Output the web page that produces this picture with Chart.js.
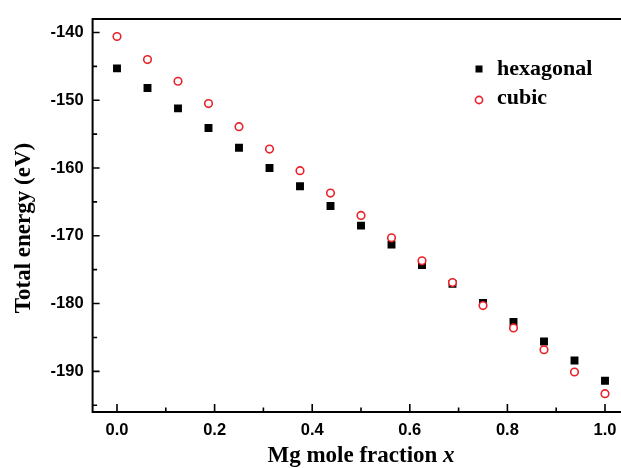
<!DOCTYPE html>
<html>
<head>
<meta charset="utf-8">
<script src="https://cdn.jsdelivr.net/npm/chart.js@4/dist/chart.umd.min.js"></script>
<style>
  html, body { margin: 0; padding: 0; background: #fff; overflow: hidden; }
  #wrap { width: 640px; height: 468px; }
</style>
</head>
<body>
<div id="wrap"><canvas id="c" width="640" height="468"></canvas></div>
<script>
// ---- data ----
const xValues = [0, 0.0625, 0.125, 0.1875, 0.25, 0.3125, 0.375, 0.4375, 0.5, 0.5625, 0.625, 0.6875, 0.75, 0.8125, 0.875, 0.9375, 1.0];
const hexagonal = [-145.3, -148.2, -151.2, -154.1, -157.0, -160.0, -162.7, -165.6, -168.5, -171.3, -174.3, -177.1, -179.9, -182.7, -185.6, -188.4, -191.4];
const cubic = [-140.6, -144.0, -147.2, -150.5, -153.9, -157.2, -160.4, -163.7, -167.0, -170.3, -173.7, -176.9, -180.3, -183.6, -186.8, -190.1, -193.3];
const seriesNames = ['hexagonal', 'cubic'];
const xTickValues = [0.0, 0.2, 0.4, 0.6, 0.8, 1.0];
const xMinorValues = [0.1, 0.3, 0.5, 0.7, 0.9];
const yTickValues = [-190, -180, -170, -160, -150, -140];
const yMinorValues = [-195, -185, -175, -165, -155, -145];
const xTitle = 'Mg mole fraction ';
const xTitleItalic = 'x';
const yTitle = 'Total energy (eV)';

const RED = '#e8232a';
const titleFont = 'bold 23px "Liberation Serif", "Times New Roman", serif';
const titleFontItalic = 'italic bold 23px "Liberation Serif", "Times New Roman", serif';

const toPts = (ys) => ys.map((y, i) => ({ x: xValues[i], y: y }));

const framePlugin = {
  id: 'frame',
  afterDraw(chart) {
    const ctx = chart.ctx;
    const a = chart.chartArea;
    const xs = chart.scales.x, ys = chart.scales.y;
    ctx.save();
    ctx.strokeStyle = '#000';
    ctx.lineWidth = 2;
    ctx.beginPath();
    ctx.moveTo(chart.width, a.top);
    ctx.lineTo(a.left, a.top);
    ctx.lineTo(a.left, a.bottom);
    ctx.lineTo(chart.width, a.bottom);
    ctx.stroke();
    ctx.lineWidth = 1.6;
    ctx.beginPath();
    // x ticks (inward, bottom)
    xTickValues.forEach(v => { const p = xs.getPixelForValue(v); ctx.moveTo(p, a.bottom); ctx.lineTo(p, a.bottom - 8); });
    xMinorValues.forEach(v => { const p = xs.getPixelForValue(v); ctx.moveTo(p, a.bottom); ctx.lineTo(p, a.bottom - 4.5); });
    // y ticks (inward, left)
    yTickValues.forEach(v => { const p = ys.getPixelForValue(v); ctx.moveTo(a.left, p); ctx.lineTo(a.left + 7, p); });
    yMinorValues.forEach(v => { const p = ys.getPixelForValue(v); ctx.moveTo(a.left, p); ctx.lineTo(a.left + 4.5, p); });
    ctx.stroke();

    // axis titles
    ctx.fillStyle = '#000';
    ctx.textBaseline = 'alphabetic';
    ctx.font = titleFont;
    const w1 = ctx.measureText(xTitle).width;
    ctx.font = titleFontItalic;
    const w2 = ctx.measureText(xTitleItalic).width;
    const cx = (a.left + a.right) / 2;
    const startX = cx - (w1 + w2) / 2;
    ctx.font = titleFont;
    ctx.textAlign = 'left';
    ctx.fillText(xTitle, startX, 462);
    ctx.font = titleFontItalic;
    ctx.fillText(xTitleItalic, startX + w1, 462);

    ctx.save();
    ctx.translate(30, 228);
    ctx.rotate(-Math.PI / 2);
    ctx.font = titleFont;
    ctx.textAlign = 'center';
    ctx.fillText(yTitle, 0, 0);
    ctx.restore();

    // legend
    const lx = 479;
    ctx.fillStyle = '#000';
    ctx.fillRect(lx - 3.5, 69 - 3.5, 7, 7);
    ctx.beginPath();
    ctx.arc(lx, 100, 3.6, 0, Math.PI * 2);
    ctx.fillStyle = '#fff';
    ctx.fill();
    ctx.strokeStyle = RED;
    ctx.lineWidth = 1.6;
    ctx.stroke();
    ctx.fillStyle = '#000';
    ctx.font = 'bold 22px "Liberation Serif", "Times New Roman", serif';
    ctx.textAlign = 'left';
    ctx.fillText(seriesNames[0], 497, 75);
    ctx.fillText(seriesNames[1], 497, 104);
    ctx.restore();
  }
};

new Chart(document.getElementById('c'), {
  type: 'scatter',
  data: {
    datasets: [
      {
        label: seriesNames[0],
        data: toPts(hexagonal),
        pointStyle: 'rect',
        pointRadius: 5.6,
        pointHoverRadius: 5.6,
        backgroundColor: '#000',
        borderColor: '#000',
        borderWidth: 0,
        order: 2
      },
      {
        label: seriesNames[1],
        data: toPts(cubic),
        pointStyle: 'circle',
        pointRadius: 3.8,
        pointHoverRadius: 3.8,
        backgroundColor: '#fff',
        borderColor: RED,
        borderWidth: 1.6,
        order: 1
      }
    ]
  },
  options: {
    responsive: false,
    devicePixelRatio: 1,
    animation: false,
    events: [],
    layout: { padding: { top: 13, right: 10.6, left: 0, bottom: 0 } },
    plugins: { legend: { display: false }, tooltip: { enabled: false }, title: { display: false } },
    scales: {
      x: {
        type: 'linear',
        min: -0.05,
        max: 1.05,
        grid: { display: false, drawTicks: false },
        border: { display: false },
        afterBuildTicks: (s) => { s.ticks = xTickValues.map(v => ({ value: v })); },
        afterFit: (s) => { s.height = 56; },
        ticks: {
          color: '#000',
          font: { family: '"Liberation Sans", Arial, sans-serif', size: 16.5, weight: 'bold' },
          padding: 9,
          maxRotation: 0,
          callback: (v) => Number(v).toFixed(1)
        }
      },
      y: {
        type: 'linear',
        min: -196,
        max: -138,
        grid: { display: false, drawTicks: false },
        border: { display: false },
        afterBuildTicks: (s) => { s.ticks = yTickValues.map(v => ({ value: v })); },
        afterFit: (s) => { s.width = 92.6; },
        ticks: {
          color: '#000',
          font: { family: '"Liberation Sans", Arial, sans-serif', size: 16.5, weight: 'bold' },
          padding: 9,
          callback: (v) => String(v)
        }
      }
    }
  },
  plugins: [framePlugin]
});
</script>
</body>
</html>
